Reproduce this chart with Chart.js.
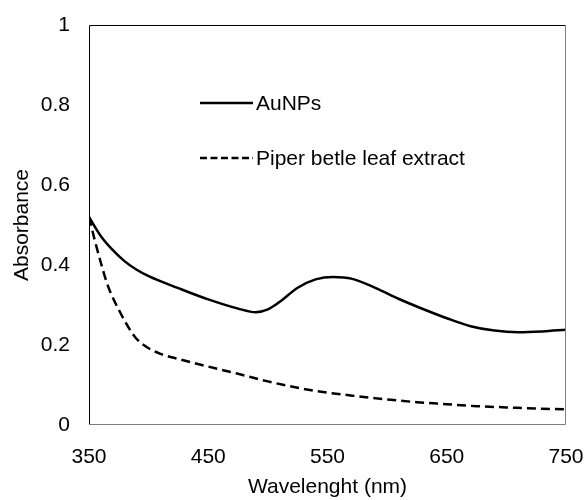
<!DOCTYPE html>
<html>
<head>
<meta charset="utf-8">
<script src="https://cdn.jsdelivr.net/npm/chart.js@4"></script>
<style>
  html, body { margin: 0; padding: 0; background: #fff; }
  #wrap { width: 586px; height: 500px; }
</style>
</head>
<body>
<div id="wrap"><canvas id="uvvis"></canvas></div>
<script>
// Wavelength (nm) / absorbance readings
const auWavelength = [350, 360, 370, 380, 390, 400, 425, 450, 475, 490, 500, 510, 525, 540, 555, 570, 590, 610, 630, 650, 670, 690, 710, 730, 750];
const auAbsorbance = [0.52, 0.472, 0.437, 0.409, 0.388, 0.372, 0.342, 0.314, 0.291, 0.282, 0.289, 0.308, 0.343, 0.364, 0.37, 0.366, 0.343, 0.315, 0.29, 0.267, 0.247, 0.236, 0.232, 0.234, 0.238];

const leafWavelength = [350, 355, 360, 365, 370, 375, 380, 385, 390, 400, 410, 425, 450, 475, 500, 525, 550, 575, 600, 625, 650, 675, 700, 725, 750];
const leafAbsorbance = [0.52, 0.46, 0.405, 0.355, 0.318, 0.288, 0.26, 0.235, 0.215, 0.192, 0.178, 0.165, 0.146, 0.128, 0.109, 0.093, 0.081, 0.072, 0.064, 0.057, 0.052, 0.047, 0.044, 0.041, 0.039];

const seriesLabels = ["AuNPs", "Piper betle leaf extract"];
const xTitle = "Wavelenght (nm)";
const yTitle = "Absorbance";

const FONT = "'Liberation Sans', Arial, sans-serif";

function toPoints(xs, ys) {
    return xs.map((x, i) => ({ x: x, y: ys[i] }));
}

// box around the plot area + legend placed inside it
const frameAndLegend = {
    id: 'frameAndLegend',
    afterDatasetsDraw(chart) {
        const ctx = chart.ctx;
        const a = chart.chartArea;
        ctx.save();
        ctx.lineWidth = 1;
        ctx.strokeStyle = '#000';
        ctx.beginPath();
        ctx.moveTo(a.left + 0.5, a.bottom);
        ctx.lineTo(a.left + 0.5, a.top + 0.5);
        ctx.lineTo(a.right, a.top + 0.5);
        ctx.stroke();
        ctx.strokeStyle = '#808080';
        ctx.beginPath();
        ctx.moveTo(a.right - 0.5, a.top);
        ctx.lineTo(a.right - 0.5, a.bottom - 0.5);
        ctx.lineTo(a.left, a.bottom - 0.5);
        ctx.stroke();

        // legend
        const rows = [103, 158];
        const dashes = [[], [7, 3.5]];
        chart.data.datasets.forEach((ds, i) => {
            const y = rows[i];
            ctx.strokeStyle = ds.borderColor;
            ctx.lineWidth = 2.5;
            ctx.setLineDash(dashes[i]);
            ctx.beginPath();
            ctx.moveTo(200, y);
            ctx.lineTo(253, y);
            ctx.stroke();
            ctx.setLineDash([]);
            ctx.fillStyle = '#000';
            ctx.font = '21px ' + FONT;
            ctx.textBaseline = 'middle';
            ctx.textAlign = 'left';
            ctx.fillText(ds.label, 256, y + 1);
        });
        ctx.restore();
    }
};

new Chart(document.getElementById('uvvis'), {
    type: 'line',
    data: {
        datasets: [
            {
                label: seriesLabels[0],
                data: toPoints(auWavelength, auAbsorbance),
                borderColor: '#000',
                borderWidth: 2.5,
                pointRadius: 0,
                cubicInterpolationMode: 'monotone',
                fill: false
            },
            {
                label: seriesLabels[1],
                data: toPoints(leafWavelength, leafAbsorbance),
                borderColor: '#000',
                borderWidth: 2.5,
                borderDash: [9, 5],
                pointRadius: 0,
                cubicInterpolationMode: 'monotone',
                fill: false
            }
        ]
    },
    options: {
        responsive: true,
        maintainAspectRatio: false,
        animation: false,
        layout: { padding: { left: 0, top: 25, right: 20, bottom: 0 } },
        plugins: {
            legend: { display: false },
            tooltip: { enabled: false }
        },
        scales: {
            x: {
                type: 'linear',
                min: 350,
                max: 750,
                grid: { display: false, drawTicks: false },
                border: { display: false },
                ticks: {
                    stepSize: 100,
                    padding: 20,
                    color: '#000',
                    maxRotation: 0,
                    font: { family: FONT, size: 21 }
                },
                title: {
                    display: true,
                    text: xTitle,
                    color: '#000',
                    padding: { top: 0, bottom: 0 },
                    font: { family: FONT, size: 21 }
                },
                afterFit(scale) {
                    scale.height = 75;
                    scale.paddingLeft = 0;
                    scale.paddingRight = 0;
                }
            },
            y: {
                min: 0,
                max: 1,
                grid: { display: false, drawTicks: false },
                border: { display: false },
                ticks: {
                    stepSize: 0.2,
                    padding: 19,
                    color: '#000',
                    font: { family: FONT, size: 21 },
                    callback: (v) => String(Math.round(v * 10) / 10)
                },
                title: {
                    display: true,
                    text: yTitle,
                    color: '#000',
                    padding: { top: 10, bottom: 0 },
                    font: { family: FONT, size: 21 }
                },
                afterFit(scale) {
                    scale.width = 89;
                    scale.paddingTop = 0;
                    scale.paddingBottom = 0;
                }
            }
        }
    },
    plugins: [frameAndLegend]
});
</script>
</body>
</html>
